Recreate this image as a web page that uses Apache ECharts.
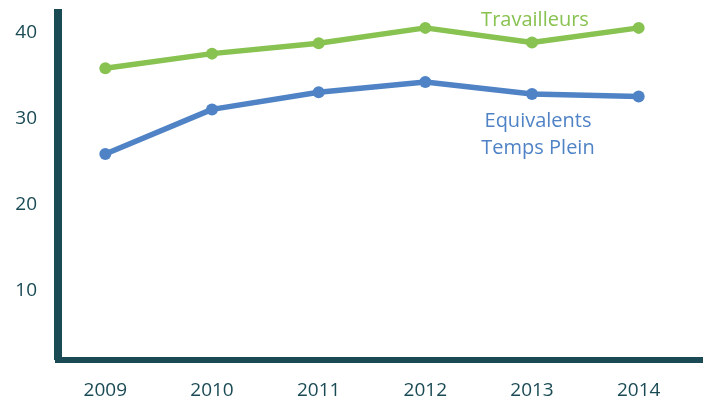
<!DOCTYPE html>
<html>
<head>
<meta charset="utf-8">
<script src="https://cdn.jsdelivr.net/npm/echarts@6/dist/echarts.min.js"></script>
<style>
  html, body { margin: 0; padding: 0; background: #fff; }
  #chart { width: 708px; height: 403px; }
</style>
</head>
<body>
<div id="chart"></div>
<script>
const years = ['2009', '2010', '2011', '2012', '2013', '2014']
const travailleurs = [35.9, 37.6, 38.8, 40.6, 38.9, 40.6]
const etp = [25.9, 31.1, 33.1, 34.3, 32.9, 32.6]

const dark = '#1a4b55'
const green = '#88c250'
const blue = '#4f83c6'
const font = 'Open Sans'

// label sits on the 2013 point of each line
const greenData = travailleurs.map((v, i) => i === 4 ? {
  value: v,
  label: { show: true, position: 'top', distance: 6, offset: [3, 0], formatter: 'Travailleurs',
    color: green, fontSize: 20, fontFamily: font }
} : v)
const blueData = etp.map((v, i) => i === 4 ? {
  value: v,
  label: { show: true, position: 'bottom', distance: 8, offset: [6, 0], formatter: 'Equivalents\nTemps Plein',
    color: blue, fontSize: 20, lineHeight: 27, fontFamily: font, align: 'center' }
} : v)

const chart = echarts.init(document.getElementById('chart'))
chart.setOption({
  animation: false,
  grid: [
    { left: 52, right: 16, top: 9, bottom: 43 },
    { left: 58, right: 8, top: 9, bottom: 43 }
  ],
  xAxis: [
    {
      type: 'category', gridIndex: 0, data: years, boundaryGap: true,
      axisLine: { show: false }, axisTick: { show: false },
      axisLabel: { color: dark, fontSize: 19, fontFamily: font, margin: 21 }
    },
    {
      type: 'value', gridIndex: 1, min: 0, max: 1,
      axisLine: { show: true, onZero: false, lineStyle: { color: dark, width: 6, cap: 'square' } },
      axisTick: { show: false }, axisLabel: { show: false }, splitLine: { show: false }
    }
  ],
  yAxis: [
    {
      type: 'value', gridIndex: 0, min: 1.9, max: 42.8,
      axisLine: { show: false }, axisTick: { show: false }, axisLabel: { show: false }, splitLine: { show: false }
    },
    {
      type: 'value', gridIndex: 1, min: 1.9, max: 42.8,
      axisLine: { show: true, lineStyle: { color: dark, width: 8, cap: 'butt' } },
      axisTick: { show: false }, splitLine: { show: false },
      axisLabel: {
        color: dark, fontSize: 19, fontFamily: font, margin: 21,
        formatter: v => v % 10 === 0 ? String(v) : ''
      }
    }
  ],
  series: [
    {
      name: 'Travailleurs', type: 'line', xAxisIndex: 0, yAxisIndex: 0,
      data: greenData, symbol: 'circle', symbolSize: 12,
      lineStyle: { color: green, width: 5.5 }, itemStyle: { color: green }
    },
    {
      name: 'Equivalents Temps Plein', type: 'line', xAxisIndex: 0, yAxisIndex: 0,
      data: blueData, symbol: 'circle', symbolSize: 12,
      lineStyle: { color: blue, width: 5.5 }, itemStyle: { color: blue }
    }
  ]
})
</script>
</body>
</html>
